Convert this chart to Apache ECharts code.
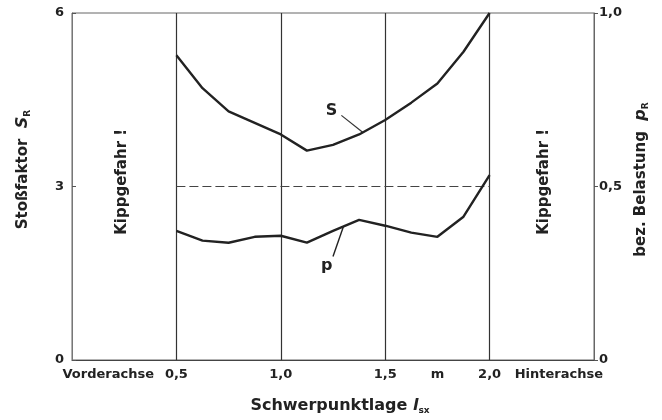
<!DOCTYPE html>
<html>
<head>
<meta charset="utf-8">
<script src="https://cdn.jsdelivr.net/npm/echarts@6/dist/echarts.min.js"></script>
<style>
  html, body { margin: 0; padding: 0; background: #fff; }
  #main { width: 662px; height: 420px; }
</style>
</head>
<body>
<div id="main"></div>
<script>
// centre of gravity position (m)
var positions = [0.5, 0.625, 0.75, 0.875, 1.0, 1.125, 1.25, 1.375, 1.5, 1.625, 1.75, 1.875, 2.0];
// shock factor S_R (left axis)
var shockFactor = [5.27, 4.7, 4.3, 4.1, 3.9, 3.62, 3.72, 3.9, 4.15, 4.45, 4.78, 5.33, 6.0];
// relative load p_R (right axis)
var relLoad = [0.372, 0.344, 0.338, 0.355, 0.358, 0.338, 0.372, 0.404, 0.387, 0.367, 0.355, 0.413, 0.533];
// x tick labels
var xTickLabels = {
  '0.25': '{l|Vorderachse}',
  '0.5': '0,5',
  '1': '1,0',
  '1.5': '1,5',
  '1.75': 'm',
  '2': '2,0',
  '2.25': '{r|Hinterachse}'
};
var gridX = [0.5, 1.0, 1.5, 2.0];
var leftTicks = { '0': '0', '3': '3', '6': '6' };
var rightTicks = { '0': '0', '0.5': '0,5', '1': '1,0' };
// horizontal reference line S = 3 between the axles' grid lines
var midLine = { y: 3, from: 0.5, to: 2.0 };

var ink = '#222';
var font = 'DejaVu Sans';

function pairs(xs, ys) {
  return xs.map(function (x, i) { return [x, ys[i]]; });
}

function subName(txt, sym, sub) {
  return '{n|' + txt + '  }{i|' + sym + '}{s|' + sub + '}';
}
var nameRich = {
  n: { fontSize: 15, fontWeight: 'bold', fontFamily: font, color: ink },
  i: { fontSize: 16, fontStyle: 'italic', fontWeight: 'bold', fontFamily: font, color: ink },
  s: { fontSize: 9, fontWeight: 'bold', fontFamily: font, color: ink, verticalAlign: 'bottom', padding: [9, 0, 0, 0] }
};

var myChart = echarts.init(document.getElementById('main'));

var option = {
  animation: false,
  backgroundColor: '#fff',
  textStyle: { fontFamily: font, color: ink },
  grid: {
    left: 72, right: 68, top: 13, bottom: 58,
    show: true, borderColor: '#666', borderWidth: 1
  },
  xAxis: {
    type: 'value',
    min: 0, max: 2.5, interval: 0.25,
    axisLine: { show: true, lineStyle: { color: '#444' } },
    axisTick: { show: false },
    splitLine: { show: false },
    axisLabel: {
      color: ink, fontSize: 13, fontWeight: 'bold', margin: 8,
      showMinLabel: true, showMaxLabel: true,
      formatter: function (v) {
        var k = String(Math.round(v * 100) / 100);
        return xTickLabels[k] || '';
      },
      rich: {
        l: { fontSize: 13, fontWeight: 'bold', fontFamily: font, color: ink, padding: [0, 32, 0, 0] },
        r: { fontSize: 13, fontWeight: 'bold', fontFamily: font, color: ink, padding: [0, 0, 0, 34] }
      }
    },
    name: '{n|Schwerpunktlage }{i|l}{s|sx}',
    nameLocation: 'middle',
    nameGap: 37,
    nameTextStyle: {
      padding: [0, 0, 0, 14],
      rich: {
        n: { fontSize: 16, fontWeight: 'bold', fontFamily: font, color: ink },
        i: { fontSize: 16, fontStyle: 'italic', fontWeight: 'bold', fontFamily: font, color: ink },
        s: { fontSize: 9, fontWeight: 'bold', fontFamily: font, color: ink, verticalAlign: 'bottom', padding: [9, 0, 0, 0] }
      }
    }
  },
  yAxis: [
    {
      type: 'value',
      position: 'left',
      min: 0, max: 6, interval: 3,
      axisLine: { show: true, lineStyle: { color: '#777' } },
      axisTick: { show: true, inside: true, length: 4, lineStyle: { color: '#555' } },
      axisLabel: {
        color: ink, fontSize: 13, fontWeight: 'bold', margin: 8,
        formatter: function (v) { return leftTicks[String(v)] || ''; }
      },
      splitLine: { show: false },
      name: subName('Stoßfaktor', 'S', 'R'),
      nameLocation: 'middle',
      nameRotate: 90,
      nameGap: 40,
      nameTextStyle: { padding: [0, 0, 0, 34], rich: nameRich }
    },
    {
      type: 'value',
      position: 'right',
      min: 0, max: 1, interval: 0.5,
      axisLine: { show: true, lineStyle: { color: '#666' } },
      axisTick: { show: true, inside: false, length: 4, lineStyle: { color: '#555' } },
      axisLabel: {
        color: ink, fontSize: 13, fontWeight: 'bold', margin: 5,
        formatter: function (v) { return rightTicks[String(v)] || ''; }
      },
      splitLine: { show: false },
      name: subName('bez. Belastung', 'p', 'R'),
      nameLocation: 'middle',
      nameRotate: 90,
      nameGap: 34,
      nameTextStyle: { padding: [0, 0, 0, 14], rich: nameRich }
    }
  ],
  series: [
    {
      name: 'S',
      type: 'line',
      yAxisIndex: 0,
      data: pairs(positions, shockFactor),
      showSymbol: false,
      symbol: 'none',
      lineStyle: { color: ink, width: 2.4 },
      z: 5,
      markLine: {
        silent: true,
        symbol: 'none',
        label: { show: false },
        lineStyle: { color: '#333', width: 1.2, type: 'solid' },
        data: gridX.map(function (x) { return { xAxis: x }; }).concat([
          [{ coord: [1.29, 4.23] }, { coord: [positions[7] + 0.02, 3.93] }],
          [
            { coord: [midLine.from, midLine.y], lineStyle: { color: '#444', width: 1.2, type: [9, 4] } },
            { coord: [midLine.to, midLine.y] }
          ]
        ])
      },
      markPoint: {
        silent: true,
        symbol: 'circle',
        symbolSize: 0,
        data: [
          { coord: [1.243, 4.3], label: { show: true, formatter: 'S', fontSize: 16, fontWeight: 'bold', color: ink, fontFamily: font } },
          { coord: [0.24, 3.08], label: { show: true, formatter: 'Kippgefahr !', rotate: 90, fontSize: 15, fontWeight: 'bold', color: ink, fontFamily: font } },
          { coord: [2.26, 3.08], label: { show: true, formatter: 'Kippgefahr !', rotate: 90, fontSize: 15, fontWeight: 'bold', color: ink, fontFamily: font } }
        ]
      }
    },
    {
      name: 'p',
      type: 'line',
      yAxisIndex: 1,
      data: pairs(positions, relLoad),
      showSymbol: false,
      symbol: 'none',
      lineStyle: { color: ink, width: 2.4 },
      z: 5,
      markLine: {
        silent: true,
        symbol: 'none',
        label: { show: false },
        lineStyle: { color: ink, width: 1.4, type: 'solid' },
        data: [
          [{ coord: [1.25, 0.298] }, { coord: [1.30, 0.385] }]
        ]
      },
      markPoint: {
        silent: true,
        symbol: 'circle',
        symbolSize: 0,
        data: [
          { coord: [1.22, 0.272], label: { show: true, formatter: 'p', fontSize: 16, fontWeight: 'bold', color: ink, fontFamily: font } }
        ]
      }
    }
  ]
};

myChart.setOption(option);
</script>
</body>
</html>
